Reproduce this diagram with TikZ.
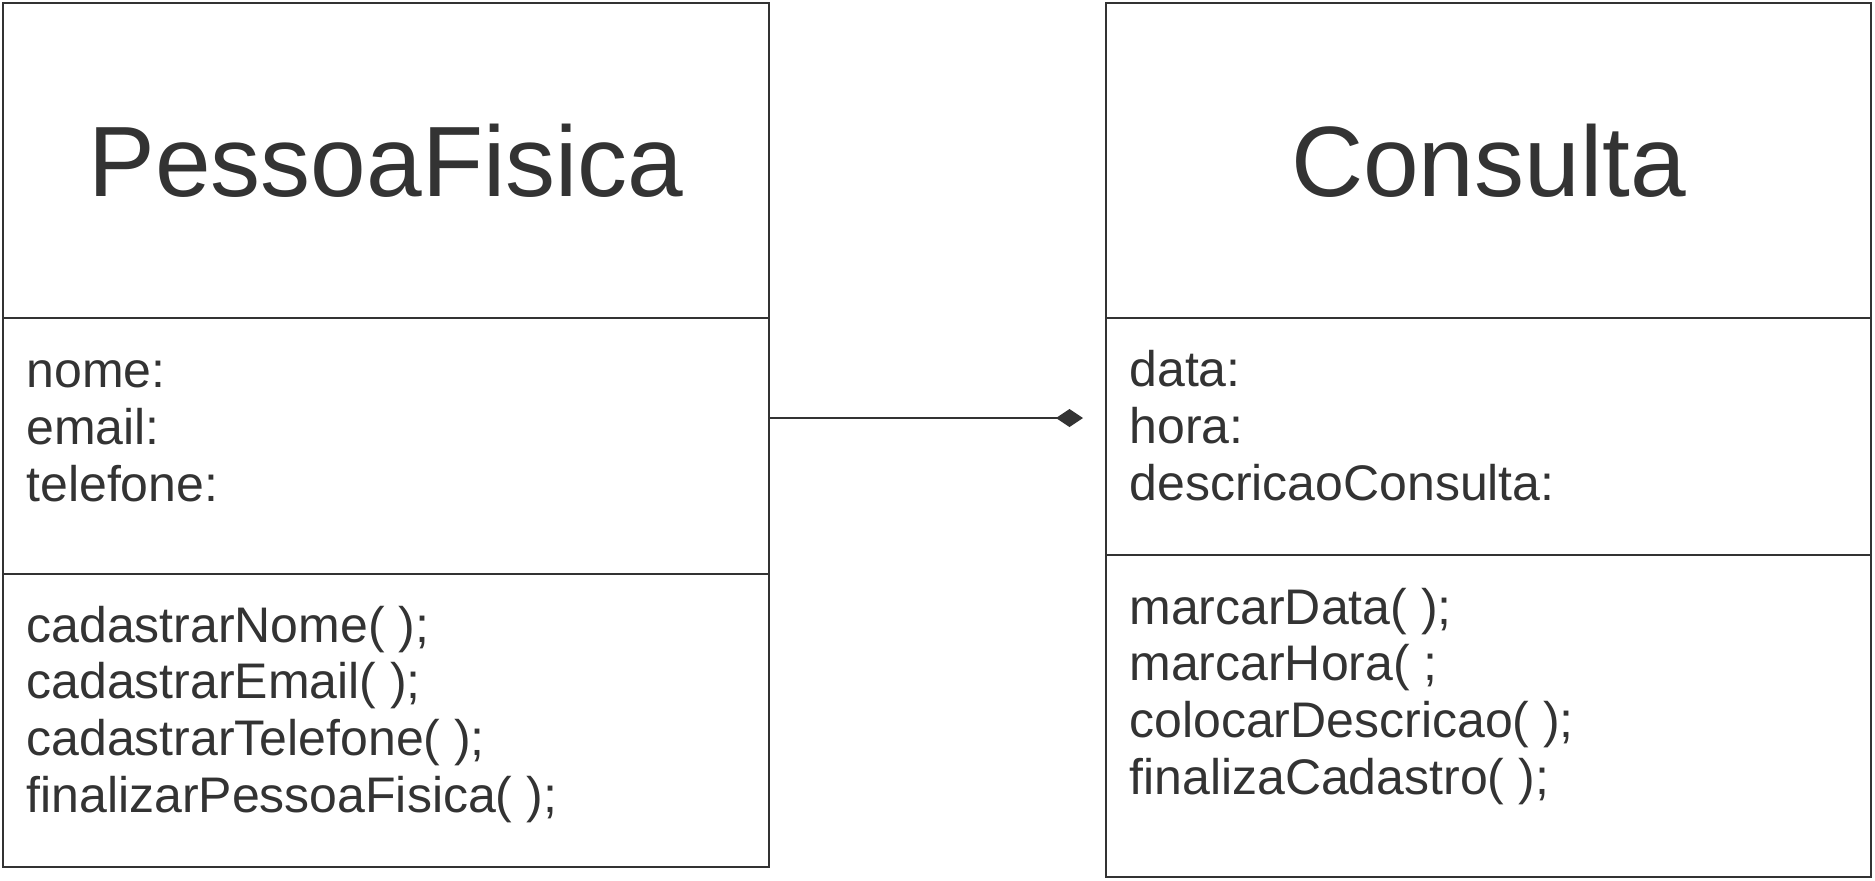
\documentclass[tikz,border=0pt]{standalone}
\usepackage{fontspec}
\setmainfont{Liberation Sans}
\usetikzlibrary{calc,arrows.meta}
\definecolor{umlgray}{HTML}{333333}
\tikzset{
    compart/.style={draw=umlgray, line width=1pt, inner sep=0pt, outer sep=0pt, anchor=north west},
    classname/.style={text=umlgray, font=\fontsize{50pt}{60pt}\selectfont},
    members/.style={text=umlgray, font=\fontsize{25pt}{28.3pt}\selectfont, align=left, anchor=base west, inner sep=0pt},
}

\begin{document}
\begin{tikzpicture}[x=0.5pt,y=-0.5pt]
    \useasboundingbox (0,0) rectangle (1875,880);
    % classe PessoaFisica
    \node[compart, classname, minimum width=383pt, minimum height=157.5pt] (pfName) at (3,3) {PessoaFisica};
    \node[compart, minimum width=383pt, minimum height=128pt] (pfAttr) at (pfName.south west) {};
    \node[compart, minimum width=383pt, minimum height=146.5pt] (pfOps) at (pfAttr.south west) {};
    \node[members] (pfAttrText) at (26,501) {nome:\\email:\\telefone:};
    \node[members] (pfOpsText) at (26,812) {cadastrarNome( );\\cadastrarEmail( );\\cadastrarTelefone( );\\finalizarPessoaFisica( );};
    % classe Consulta
    \node[compart, classname, minimum width=382.5pt, minimum height=157.5pt] (cName) at (1106,3) {Consulta};
    \node[compart, minimum width=382.5pt, minimum height=118.5pt] (cAttr) at (cName.south west) {};
    \node[compart, minimum width=382.5pt, minimum height=161pt] (cOps) at (cAttr.south west) {};
    \node[members] (cAttrText) at (1129,500) {data:\\hora:\\descricaoConsulta:};
    \node[members] (cOpsText) at (1129,794) {marcarData( );\\marcarHora( ;\\colocarDescricao( );\\finalizaCadastro( );};
    % agregacao
    \coordinate (agg) at (1083,418);
    \draw[umlgray, line width=1pt, -{Diamond[length=13.5pt,width=9pt]}] (pfAttr.east |- agg) -- (agg);
\end{tikzpicture}
\end{document}
